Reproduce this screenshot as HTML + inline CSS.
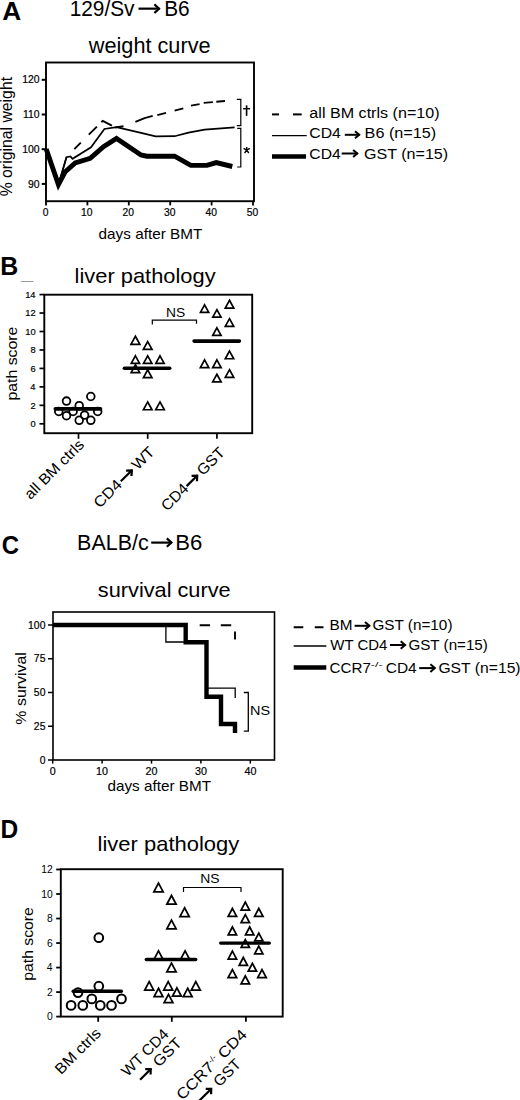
<!DOCTYPE html>
<html><head><meta charset="utf-8"><style>
html,body{margin:0;padding:0;background:#fff;width:520px;height:1100px;overflow:hidden}
svg{display:block}
text{font-family:"Liberation Sans", sans-serif;fill:#000}
.tk{stroke:#000;stroke-width:0.2px}
</style></head><body>
<svg width="520" height="1100" viewBox="0 0 520 1100">
<text x="2.24" y="20.1" font-size="25.8" font-weight="bold" textLength="18.97" lengthAdjust="spacingAndGlyphs">A</text>
<text x="69.64" y="15.8" font-size="21.2" textLength="64.93" lengthAdjust="spacingAndGlyphs">129/Sv</text>
<path d="M138.5,8.65 H159.6" fill="none" stroke="#000" stroke-width="2.2" />
<path d="M154.40,4.35 L159.06,8.65 L154.40,12.95" fill="none" stroke="#000" stroke-width="2.2" stroke-linejoin="miter" stroke-miterlimit="10"/>
<text x="164.23" y="15.7" font-size="21.2" textLength="25.47" lengthAdjust="spacingAndGlyphs">B6</text>
<text x="88.80" y="52.5" font-size="21.2" textLength="121.75" lengthAdjust="spacingAndGlyphs">weight curve</text>
<rect x="46" y="62.5" width="208" height="138.7" fill="none" stroke="#000" stroke-width="1.9"/>
<line x1="41.7" y1="79.79999999999998" x2="46" y2="79.79999999999998" stroke="#000" stroke-width="2" />
<text x="22.20" y="83.4" font-size="10.4" class="tk" textLength="17.35" lengthAdjust="spacingAndGlyphs">120</text>
<line x1="41.7" y1="114.49999999999999" x2="46" y2="114.49999999999999" stroke="#000" stroke-width="2" />
<text x="22.93" y="118.1" font-size="10.4" class="tk" textLength="16.58" lengthAdjust="spacingAndGlyphs">110</text>
<line x1="41.7" y1="149.2" x2="46" y2="149.2" stroke="#000" stroke-width="2" />
<text x="22.20" y="152.8" font-size="10.4" class="tk" textLength="17.35" lengthAdjust="spacingAndGlyphs">100</text>
<line x1="41.7" y1="183.89999999999998" x2="46" y2="183.89999999999998" stroke="#000" stroke-width="2" />
<text x="27.97" y="187.5" font-size="10.4" class="tk" textLength="11.57" lengthAdjust="spacingAndGlyphs">90</text>
<line x1="46.0" y1="201.2" x2="46.0" y2="205.4" stroke="#000" stroke-width="1.8" />
<text x="42.64" y="215.5" font-size="10.4" class="tk" textLength="5.73" lengthAdjust="spacingAndGlyphs">0</text>
<line x1="87.4" y1="201.2" x2="87.4" y2="205.4" stroke="#000" stroke-width="1.8" />
<text x="81.01" y="215.5" font-size="10.4" class="tk" textLength="11.45" lengthAdjust="spacingAndGlyphs">10</text>
<line x1="128.8" y1="201.2" x2="128.8" y2="205.4" stroke="#000" stroke-width="1.8" />
<text x="122.53" y="215.5" font-size="10.4" class="tk" textLength="11.45" lengthAdjust="spacingAndGlyphs">20</text>
<line x1="170.2" y1="201.2" x2="170.2" y2="205.4" stroke="#000" stroke-width="1.8" />
<text x="163.99" y="215.5" font-size="10.4" class="tk" textLength="11.45" lengthAdjust="spacingAndGlyphs">30</text>
<line x1="211.6" y1="201.2" x2="211.6" y2="205.4" stroke="#000" stroke-width="1.8" />
<text x="205.46" y="215.5" font-size="10.4" class="tk" textLength="11.45" lengthAdjust="spacingAndGlyphs">40</text>
<line x1="252.99999999999997" y1="201.2" x2="252.99999999999997" y2="205.4" stroke="#000" stroke-width="1.8" />
<text x="246.79" y="215.5" font-size="10.4" class="tk" textLength="11.45" lengthAdjust="spacingAndGlyphs">50</text>
<text x="98.59" y="239.2" font-size="15" textLength="103.72" lengthAdjust="spacingAndGlyphs">days after BMT</text>
<text x="-0.55" y="0" font-size="15.7" textLength="119.41" lengthAdjust="spacingAndGlyphs" transform="translate(11.6 195.8) rotate(-90)">% original weight</text>
<path d="M46.2,149 L58.4,184.6 L65,172 L75.2,163 L90.2,158.3 L103.5,146.6 L116.5,138.5 L141,155 L146.9,156.2 L174.6,156.2 L190.8,165.4 L206.9,165.4 L216.2,162.6 L232.3,166.5" fill="none" stroke="#000" stroke-width="4.9" stroke-linejoin="miter" stroke-miterlimit="6"/>
<path d="M46.2,149 L58.4,185 L66.5,157.2 L70.5,156.5 L72.5,158.8 L91,147.3 L104.4,129 L116.5,127.2 L140,132.6 L155.6,136.4 L174.6,136.2 L188.5,132.6 L204.6,129.6 L234.6,127.3" fill="none" stroke="#000" stroke-width="1.7" />
<path d="M74.3,149.2 L80.8,142.7" fill="none" stroke="#000" stroke-width="1.9" stroke-linejoin="round"/>
<path d="M88.8,134.7 L96.9,126.6" fill="none" stroke="#000" stroke-width="1.9" stroke-linejoin="round"/>
<path d="M101.3,122.2 L102.7,120.8 L111.9,125.54" fill="none" stroke="#000" stroke-width="1.9" stroke-linejoin="round"/>
<path d="M115.4,127.35 L115.5,127.4 L123.5,126.2" fill="none" stroke="#000" stroke-width="1.9" stroke-linejoin="round"/>
<path d="M135.4,121.8 L144.6,118.1 L152.7,115.8" fill="none" stroke="#000" stroke-width="1.9" stroke-linejoin="round"/>
<path d="M157.3,115.2 L166,112.9" fill="none" stroke="#000" stroke-width="1.9" stroke-linejoin="round"/>
<path d="M174.6,110.6 L183.3,108.3" fill="none" stroke="#000" stroke-width="1.9" stroke-linejoin="round"/>
<path d="M191,105.6 L199.6,104.1" fill="none" stroke="#000" stroke-width="1.9" stroke-linejoin="round"/>
<path d="M203.7,102.9 L212.9,102.1" fill="none" stroke="#000" stroke-width="1.9" stroke-linejoin="round"/>
<path d="M216.3,101.8 L225,101.0" fill="none" stroke="#000" stroke-width="1.9" stroke-linejoin="round"/>
<path d="M46.2,149 L58.4,184.6 L66.5,157" fill="none" stroke="#000" stroke-width="1.5" />
<path d="M236.8,99.4 H240.8 V125.7 H236.8" fill="none" stroke="#000" stroke-width="1.2" />
<path d="M237.2,128.4 H240.8 V167 H237.2" fill="none" stroke="#000" stroke-width="1.2" />
<path d="M246.6,105.3 V115.9" fill="none" stroke="#000" stroke-width="1.6" />
<path d="M243.1,108.7 H250.1" fill="none" stroke="#000" stroke-width="1.5" />
<path d="M246.7,147 V150.2 M246.7,150.2 L243.6,148.4 M246.7,150.2 L249.8,148.4 M246.7,150.2 L244.6,153 M246.7,150.2 L248.8,153" fill="none" stroke="#000" stroke-width="1.4" />
<path d="M272,114.4 H279" fill="none" stroke="#000" stroke-width="2" />
<path d="M293,114.4 H301.7" fill="none" stroke="#000" stroke-width="2" />
<text x="309.38" y="117.8" font-size="14.7" textLength="130.20" lengthAdjust="spacingAndGlyphs">all BM ctrls (n=10)</text>
<line x1="272" y1="135.6" x2="306.7" y2="135.6" stroke="#000" stroke-width="1.4" />
<text x="309.31" y="138.3" font-size="14.7" textLength="31.57" lengthAdjust="spacingAndGlyphs">CD4</text>
<path d="M344.8,134.8 H359.6" fill="none" stroke="#000" stroke-width="2.0" />
<path d="M355.00,131.30 L359.20,134.8 L355.00,138.30" fill="none" stroke="#000" stroke-width="2.0" stroke-linejoin="miter" stroke-miterlimit="10"/>
<text x="364.60" y="138.3" font-size="14.7" textLength="71.64" lengthAdjust="spacingAndGlyphs">B6 (n=15)</text>
<line x1="272" y1="156.5" x2="306" y2="156.5" stroke="#000" stroke-width="4.4" />
<text x="309.32" y="158.7" font-size="14.7" textLength="31.36" lengthAdjust="spacingAndGlyphs">CD4</text>
<path d="M341.7,153.5 H357.7" fill="none" stroke="#000" stroke-width="2.0" />
<path d="M353.10,149.90 L357.30,153.5 L353.10,157.10" fill="none" stroke="#000" stroke-width="2.0" stroke-linejoin="miter" stroke-miterlimit="10"/>
<text x="364.00" y="158.7" font-size="14.7" textLength="84.13" lengthAdjust="spacingAndGlyphs">GST (n=15)</text>
<text x="0.28" y="274.8" font-size="25.4" font-weight="bold" textLength="18.00" lengthAdjust="spacingAndGlyphs">B</text>
<line x1="20.8" y1="281.5" x2="33.5" y2="281.5" stroke="#999" stroke-width="1"/>
<text x="74.58" y="283.4" font-size="21" textLength="141.00" lengthAdjust="spacingAndGlyphs">liver pathology</text>
<rect x="44.3" y="294.7" width="207.9" height="138.5" fill="none" stroke="#000" stroke-width="1.9"/>
<line x1="39.5" y1="423.8" x2="44.3" y2="423.8" stroke="#000" stroke-width="1.7" />
<text x="30.41" y="427.0" font-size="9.3" class="tk" textLength="5.17" lengthAdjust="spacingAndGlyphs">0</text>
<line x1="39.5" y1="405.34000000000003" x2="44.3" y2="405.34000000000003" stroke="#000" stroke-width="1.7" />
<text x="30.50" y="408.54" font-size="9.3" class="tk" textLength="5.17" lengthAdjust="spacingAndGlyphs">2</text>
<line x1="39.5" y1="386.88" x2="44.3" y2="386.88" stroke="#000" stroke-width="1.7" />
<text x="30.32" y="390.08" font-size="9.3" class="tk" textLength="5.17" lengthAdjust="spacingAndGlyphs">4</text>
<line x1="39.5" y1="368.42" x2="44.3" y2="368.42" stroke="#000" stroke-width="1.7" />
<text x="30.46" y="371.62" font-size="9.3" class="tk" textLength="5.17" lengthAdjust="spacingAndGlyphs">6</text>
<line x1="39.5" y1="349.96000000000004" x2="44.3" y2="349.96000000000004" stroke="#000" stroke-width="1.7" />
<text x="30.41" y="353.16" font-size="9.3" class="tk" textLength="5.17" lengthAdjust="spacingAndGlyphs">8</text>
<line x1="39.5" y1="331.5" x2="44.3" y2="331.5" stroke="#000" stroke-width="1.7" />
<text x="25.25" y="334.7" font-size="9.3" class="tk" textLength="10.34" lengthAdjust="spacingAndGlyphs">10</text>
<line x1="39.5" y1="313.04" x2="44.3" y2="313.04" stroke="#000" stroke-width="1.7" />
<text x="25.34" y="316.24" font-size="9.3" class="tk" textLength="10.34" lengthAdjust="spacingAndGlyphs">12</text>
<line x1="39.5" y1="294.58000000000004" x2="44.3" y2="294.58000000000004" stroke="#000" stroke-width="1.7" />
<text x="25.16" y="297.78" font-size="9.3" class="tk" textLength="10.34" lengthAdjust="spacingAndGlyphs">14</text>
<line x1="78.5" y1="433.2" x2="78.5" y2="438.8" stroke="#000" stroke-width="1.7" />
<line x1="147.7" y1="433.2" x2="147.7" y2="438.8" stroke="#000" stroke-width="1.7" />
<line x1="216.9" y1="433.2" x2="216.9" y2="438.8" stroke="#000" stroke-width="1.7" />
<text x="-1.03" y="0" font-size="15.4" textLength="73.93" lengthAdjust="spacingAndGlyphs" transform="translate(16.8 399.5) rotate(-90)">path score</text>
<circle cx="58.8" cy="411.5" r="3.85" fill="none" stroke="#000" stroke-width="1.8"/>
<circle cx="66.5" cy="401.1" r="3.85" fill="none" stroke="#000" stroke-width="1.8"/>
<circle cx="90.8" cy="396.5" r="3.85" fill="none" stroke="#000" stroke-width="1.8"/>
<circle cx="79.2" cy="405.7" r="3.85" fill="none" stroke="#000" stroke-width="1.8"/>
<circle cx="73.1" cy="411.5" r="3.85" fill="none" stroke="#000" stroke-width="1.8"/>
<circle cx="97.7" cy="411.5" r="3.85" fill="none" stroke="#000" stroke-width="1.8"/>
<circle cx="66.5" cy="415.7" r="3.85" fill="none" stroke="#000" stroke-width="1.8"/>
<circle cx="84.6" cy="415.1" r="3.85" fill="none" stroke="#000" stroke-width="1.8"/>
<circle cx="79.2" cy="420.3" r="3.85" fill="none" stroke="#000" stroke-width="1.8"/>
<circle cx="90.8" cy="420.3" r="3.85" fill="none" stroke="#000" stroke-width="1.8"/>
<line x1="55.3" y1="408.9" x2="100.5" y2="408.9" stroke="#000" stroke-width="3.6" stroke-linecap="round"/>
<path d="M135.40,336.26 L139.85,344.35 L130.95,344.35 Z" fill="none" stroke="#000" stroke-width="1.7" stroke-linejoin="miter" stroke-miterlimit="10"/>
<path d="M147.70,341.56 L152.04,349.45 L143.36,349.45 Z" fill="none" stroke="#000" stroke-width="1.7" stroke-linejoin="miter" stroke-miterlimit="10"/>
<path d="M135.40,355.86 L139.57,363.45 L131.23,363.45 Z" fill="none" stroke="#000" stroke-width="1.7" stroke-linejoin="miter" stroke-miterlimit="10"/>
<path d="M147.70,355.86 L151.87,363.45 L143.53,363.45 Z" fill="none" stroke="#000" stroke-width="1.7" stroke-linejoin="miter" stroke-miterlimit="10"/>
<path d="M160.00,355.86 L164.17,363.45 L155.83,363.45 Z" fill="none" stroke="#000" stroke-width="1.7" stroke-linejoin="miter" stroke-miterlimit="10"/>
<path d="M135.40,364.76 L139.68,372.55 L131.12,372.55 Z" fill="none" stroke="#000" stroke-width="1.7" stroke-linejoin="miter" stroke-miterlimit="10"/>
<path d="M147.70,369.86 L151.93,377.55 L143.47,377.55 Z" fill="none" stroke="#000" stroke-width="1.7" stroke-linejoin="miter" stroke-miterlimit="10"/>
<path d="M147.70,401.96 L151.98,409.75 L143.42,409.75 Z" fill="none" stroke="#000" stroke-width="1.7" stroke-linejoin="miter" stroke-miterlimit="10"/>
<path d="M160.00,401.96 L164.28,409.75 L155.72,409.75 Z" fill="none" stroke="#000" stroke-width="1.7" stroke-linejoin="miter" stroke-miterlimit="10"/>
<line x1="124.4" y1="368.2" x2="169.7" y2="368.2" stroke="#000" stroke-width="3.6" stroke-linecap="round"/>
<path d="M204.60,304.86 L208.72,312.35 L200.48,312.35 Z" fill="none" stroke="#000" stroke-width="1.7" stroke-linejoin="miter" stroke-miterlimit="10"/>
<path d="M216.90,309.66 L221.02,317.15 L212.78,317.15 Z" fill="none" stroke="#000" stroke-width="1.7" stroke-linejoin="miter" stroke-miterlimit="10"/>
<path d="M229.50,300.26 L233.78,308.05 L225.22,308.05 Z" fill="none" stroke="#000" stroke-width="1.7" stroke-linejoin="miter" stroke-miterlimit="10"/>
<path d="M229.50,318.66 L233.73,326.35 L225.27,326.35 Z" fill="none" stroke="#000" stroke-width="1.7" stroke-linejoin="miter" stroke-miterlimit="10"/>
<path d="M216.90,327.86 L221.07,335.45 L212.73,335.45 Z" fill="none" stroke="#000" stroke-width="1.7" stroke-linejoin="miter" stroke-miterlimit="10"/>
<path d="M229.50,351.06 L233.73,358.75 L225.27,358.75 Z" fill="none" stroke="#000" stroke-width="1.7" stroke-linejoin="miter" stroke-miterlimit="10"/>
<path d="M204.60,359.86 L208.83,367.55 L200.37,367.55 Z" fill="none" stroke="#000" stroke-width="1.7" stroke-linejoin="miter" stroke-miterlimit="10"/>
<path d="M216.90,359.86 L221.13,367.55 L212.67,367.55 Z" fill="none" stroke="#000" stroke-width="1.7" stroke-linejoin="miter" stroke-miterlimit="10"/>
<path d="M229.50,369.66 L233.73,377.35 L225.27,377.35 Z" fill="none" stroke="#000" stroke-width="1.7" stroke-linejoin="miter" stroke-miterlimit="10"/>
<path d="M216.90,374.26 L221.13,381.95 L212.67,381.95 Z" fill="none" stroke="#000" stroke-width="1.7" stroke-linejoin="miter" stroke-miterlimit="10"/>
<line x1="194.1" y1="341.1" x2="239.4" y2="341.1" stroke="#000" stroke-width="3.6" stroke-linecap="round"/>
<path d="M152.3,324.6 V320.2 H196.5 V323.8" fill="none" stroke="#000" stroke-width="1.2" />
<text x="166.10" y="317.4" font-size="12.4" textLength="19.18" lengthAdjust="spacingAndGlyphs">NS</text>
<text x="1.64" y="554.3" font-size="25.8" font-weight="bold" textLength="17.31" lengthAdjust="spacingAndGlyphs">C</text>
<text x="77.08" y="549.7" font-size="21.3" textLength="71.55" lengthAdjust="spacingAndGlyphs">BALB/c</text>
<path d="M151.2,542.6 H172" fill="none" stroke="#000" stroke-width="2.2" />
<path d="M166.80,538.40 L171.46,542.6 L166.80,546.80" fill="none" stroke="#000" stroke-width="2.2" stroke-linejoin="miter" stroke-miterlimit="10"/>
<text x="175.23" y="549.7" font-size="21.3" textLength="27.03" lengthAdjust="spacingAndGlyphs">B6</text>
<text x="97.85" y="597.3" font-size="20.8" textLength="132.79" lengthAdjust="spacingAndGlyphs">survival curve</text>
<rect x="53" y="612" width="221.5" height="148" fill="none" stroke="#000" stroke-width="1.6"/>
<line x1="48" y1="760.0" x2="53" y2="760.0" stroke="#000" stroke-width="1.5" />
<text x="39.64" y="763.6" font-size="10.4" class="tk" textLength="5.78" lengthAdjust="spacingAndGlyphs">0</text>
<line x1="48" y1="726.25" x2="53" y2="726.25" stroke="#000" stroke-width="1.5" />
<text x="33.87" y="729.85" font-size="10.4" class="tk" textLength="11.57" lengthAdjust="spacingAndGlyphs">25</text>
<line x1="48" y1="692.5" x2="53" y2="692.5" stroke="#000" stroke-width="1.5" />
<text x="33.87" y="696.1" font-size="10.4" class="tk" textLength="11.57" lengthAdjust="spacingAndGlyphs">50</text>
<line x1="48" y1="658.75" x2="53" y2="658.75" stroke="#000" stroke-width="1.5" />
<text x="33.87" y="662.35" font-size="10.4" class="tk" textLength="11.57" lengthAdjust="spacingAndGlyphs">75</text>
<line x1="48" y1="625.0" x2="53" y2="625.0" stroke="#000" stroke-width="1.5" />
<text x="28.10" y="628.6" font-size="10.4" class="tk" textLength="17.35" lengthAdjust="spacingAndGlyphs">100</text>
<line x1="52.7" y1="760" x2="52.7" y2="763.6" stroke="#000" stroke-width="1.5" />
<text x="49.73" y="774.6" font-size="10.4" class="tk" textLength="5.96" lengthAdjust="spacingAndGlyphs">0</text>
<line x1="102.10000000000001" y1="760" x2="102.10000000000001" y2="763.6" stroke="#000" stroke-width="1.5" />
<text x="95.97" y="774.6" font-size="10.4" class="tk" textLength="11.92" lengthAdjust="spacingAndGlyphs">10</text>
<line x1="151.5" y1="760" x2="151.5" y2="763.6" stroke="#000" stroke-width="1.5" />
<text x="145.50" y="774.6" font-size="10.4" class="tk" textLength="11.92" lengthAdjust="spacingAndGlyphs">20</text>
<line x1="200.90000000000003" y1="760" x2="200.90000000000003" y2="763.6" stroke="#000" stroke-width="1.5" />
<text x="194.95" y="774.6" font-size="10.4" class="tk" textLength="11.92" lengthAdjust="spacingAndGlyphs">30</text>
<line x1="250.3" y1="760" x2="250.3" y2="763.6" stroke="#000" stroke-width="1.5" />
<text x="244.44" y="774.6" font-size="10.4" class="tk" textLength="11.92" lengthAdjust="spacingAndGlyphs">40</text>
<text x="107.49" y="790.7" font-size="15" textLength="103.62" lengthAdjust="spacingAndGlyphs">days after BMT</text>
<text x="-0.56" y="0" font-size="15.5" textLength="72.52" lengthAdjust="spacingAndGlyphs" transform="translate(26.4 724.1) rotate(-90)">% survival</text>
<path d="M199.7,625.2 H210 M220.8,625.2 H231.2" fill="none" stroke="#000" stroke-width="2" />
<path d="M235,631.6 V639.4" fill="none" stroke="#000" stroke-width="1.9" />
<path d="M53,625 H165.9 V642 H206 V688.2 H235.2 V698" fill="none" stroke="#000" stroke-width="1.3" />
<path d="M53,625 H185.7 V642.3 H206.5 V696.7 H221 V724 H235 V733" fill="none" stroke="#000" stroke-width="4.4" stroke-linejoin="miter"/>
<path d="M243.8,692.5 H248.3 V731.2 H243.8" fill="none" stroke="#000" stroke-width="1.3" />
<text x="250.14" y="715" font-size="13.6" textLength="20.07" lengthAdjust="spacingAndGlyphs">NS</text>
<path d="M293.7,627.3 H303.3 M314.8,627.3 H323.5" fill="none" stroke="#000" stroke-width="2" />
<text x="329.47" y="629.9" font-size="13.8" textLength="23.03" lengthAdjust="spacingAndGlyphs">BM</text>
<path d="M354.6,625.8 H369.8" fill="none" stroke="#000" stroke-width="2.0" />
<path d="M365.00,622.00 L369.40,625.8 L365.00,629.60" fill="none" stroke="#000" stroke-width="2.0" stroke-linejoin="miter" stroke-miterlimit="10"/>
<text x="372.44" y="630.2" font-size="13.8" textLength="80.04" lengthAdjust="spacingAndGlyphs">GST (n=10)</text>
<line x1="293.7" y1="646" x2="326.3" y2="646" stroke="#000" stroke-width="1.4" />
<text x="330.33" y="649.5" font-size="13.8" textLength="57.12" lengthAdjust="spacingAndGlyphs">WT CD4</text>
<path d="M390,645 H405.5" fill="none" stroke="#000" stroke-width="2.0" />
<path d="M400.70,641.20 L405.10,645 L400.70,648.80" fill="none" stroke="#000" stroke-width="2.0" stroke-linejoin="miter" stroke-miterlimit="10"/>
<text x="408.44" y="649.6" font-size="13.8" textLength="79.43" lengthAdjust="spacingAndGlyphs">GST (n=15)</text>
<line x1="293.7" y1="667.5" x2="326.3" y2="667.5" stroke="#000" stroke-width="4.5" />
<text x="329.64" y="672.7" font-size="13.8" textLength="41.26" lengthAdjust="spacingAndGlyphs">CCR7</text>
<text x="370.83" y="666.6" font-size="8" textLength="11.92" lengthAdjust="spacingAndGlyphs">-/-</text>
<text x="385.73" y="673.2" font-size="13.8" textLength="30.95" lengthAdjust="spacingAndGlyphs">CD4</text>
<path d="M419.2,668.1 H435.2" fill="none" stroke="#000" stroke-width="2.0" />
<path d="M430.40,664.30 L434.80,668.1 L430.40,671.90" fill="none" stroke="#000" stroke-width="2.0" stroke-linejoin="miter" stroke-miterlimit="10"/>
<text x="438.41" y="673.2" font-size="13.8" textLength="82.19" lengthAdjust="spacingAndGlyphs">GST (n=15)</text>
<text x="0.60" y="838" font-size="25.9" font-weight="bold" textLength="17.73" lengthAdjust="spacingAndGlyphs">D</text>
<text x="97.57" y="851.2" font-size="21" textLength="141.70" lengthAdjust="spacingAndGlyphs">liver pathology</text>
<rect x="60.8" y="869.2" width="221.9" height="147.4" fill="none" stroke="#000" stroke-width="1.9"/>
<line x1="56.2" y1="1016.6" x2="60.8" y2="1016.6" stroke="#000" stroke-width="1.8" />
<text x="47.00" y="1020.1" font-size="10" textLength="5.73" lengthAdjust="spacingAndGlyphs">0</text>
<line x1="56.2" y1="992.08" x2="60.8" y2="992.08" stroke="#000" stroke-width="1.8" />
<text x="47.10" y="995.58" font-size="10" textLength="5.73" lengthAdjust="spacingAndGlyphs">2</text>
<line x1="56.2" y1="967.5600000000001" x2="60.8" y2="967.5600000000001" stroke="#000" stroke-width="1.8" />
<text x="46.89" y="971.06" font-size="10" textLength="5.73" lengthAdjust="spacingAndGlyphs">4</text>
<line x1="56.2" y1="943.04" x2="60.8" y2="943.04" stroke="#000" stroke-width="1.8" />
<text x="47.05" y="946.54" font-size="10" textLength="5.73" lengthAdjust="spacingAndGlyphs">6</text>
<line x1="56.2" y1="918.52" x2="60.8" y2="918.52" stroke="#000" stroke-width="1.8" />
<text x="47.00" y="922.02" font-size="10" textLength="5.73" lengthAdjust="spacingAndGlyphs">8</text>
<line x1="56.2" y1="894.0" x2="60.8" y2="894.0" stroke="#000" stroke-width="1.8" />
<text x="41.28" y="897.5" font-size="10" textLength="11.46" lengthAdjust="spacingAndGlyphs">10</text>
<line x1="56.2" y1="869.48" x2="60.8" y2="869.48" stroke="#000" stroke-width="1.8" />
<text x="41.38" y="872.98" font-size="10" textLength="11.46" lengthAdjust="spacingAndGlyphs">12</text>
<line x1="98.2" y1="1016.6" x2="98.2" y2="1021.8" stroke="#000" stroke-width="1.8" />
<line x1="171.8" y1="1016.6" x2="171.8" y2="1021.8" stroke="#000" stroke-width="1.8" />
<line x1="245.9" y1="1016.6" x2="245.9" y2="1021.8" stroke="#000" stroke-width="1.8" />
<text x="-1.03" y="0" font-size="15.4" textLength="73.73" lengthAdjust="spacingAndGlyphs" transform="translate(32.9 979.8) rotate(-90)">path score</text>
<circle cx="98.8" cy="937.7" r="4.35" fill="none" stroke="#000" stroke-width="2.0"/>
<circle cx="98.8" cy="986.2" r="4.35" fill="none" stroke="#000" stroke-width="2.0"/>
<circle cx="78" cy="992.6" r="4.35" fill="none" stroke="#000" stroke-width="2.0"/>
<circle cx="91.8" cy="998.9" r="4.35" fill="none" stroke="#000" stroke-width="2.0"/>
<circle cx="121.5" cy="998.9" r="4.35" fill="none" stroke="#000" stroke-width="2.0"/>
<circle cx="71.1" cy="1005.4" r="4.35" fill="none" stroke="#000" stroke-width="2.0"/>
<circle cx="82.8" cy="1005.4" r="4.35" fill="none" stroke="#000" stroke-width="2.0"/>
<circle cx="100.3" cy="1005.4" r="4.35" fill="none" stroke="#000" stroke-width="2.0"/>
<circle cx="111.5" cy="1005.4" r="4.35" fill="none" stroke="#000" stroke-width="2.0"/>
<line x1="73.2" y1="991.2" x2="121.3" y2="991.2" stroke="#000" stroke-width="3.4" stroke-linecap="round"/>
<path d="M158.50,883.17 L163.14,891.92 L153.86,891.92 Z" fill="none" stroke="#000" stroke-width="1.75" stroke-linejoin="miter" stroke-miterlimit="10"/>
<path d="M171.50,895.47 L176.14,904.23 L166.86,904.23 Z" fill="none" stroke="#000" stroke-width="1.75" stroke-linejoin="miter" stroke-miterlimit="10"/>
<path d="M184.60,907.77 L189.24,916.52 L179.96,916.52 Z" fill="none" stroke="#000" stroke-width="1.75" stroke-linejoin="miter" stroke-miterlimit="10"/>
<path d="M171.50,920.07 L176.14,928.83 L166.86,928.83 Z" fill="none" stroke="#000" stroke-width="1.75" stroke-linejoin="miter" stroke-miterlimit="10"/>
<path d="M158.50,950.87 L162.88,959.12 L154.12,959.12 Z" fill="none" stroke="#000" stroke-width="1.75" stroke-linejoin="miter" stroke-miterlimit="10"/>
<path d="M185.10,950.87 L189.48,959.12 L180.72,959.12 Z" fill="none" stroke="#000" stroke-width="1.75" stroke-linejoin="miter" stroke-miterlimit="10"/>
<path d="M171.50,963.17 L176.14,971.92 L166.86,971.92 Z" fill="none" stroke="#000" stroke-width="1.75" stroke-linejoin="miter" stroke-miterlimit="10"/>
<path d="M149.20,981.67 L153.68,990.12 L144.72,990.12 Z" fill="none" stroke="#000" stroke-width="1.75" stroke-linejoin="miter" stroke-miterlimit="10"/>
<path d="M168.20,981.67 L172.68,990.12 L163.72,990.12 Z" fill="none" stroke="#000" stroke-width="1.75" stroke-linejoin="miter" stroke-miterlimit="10"/>
<path d="M195.80,981.67 L200.28,990.12 L191.32,990.12 Z" fill="none" stroke="#000" stroke-width="1.75" stroke-linejoin="miter" stroke-miterlimit="10"/>
<path d="M158.50,988.27 L162.88,996.52 L154.12,996.52 Z" fill="none" stroke="#000" stroke-width="1.75" stroke-linejoin="miter" stroke-miterlimit="10"/>
<path d="M176.90,987.87 L181.33,996.23 L172.47,996.23 Z" fill="none" stroke="#000" stroke-width="1.75" stroke-linejoin="miter" stroke-miterlimit="10"/>
<path d="M187.70,988.27 L192.08,996.52 L183.32,996.52 Z" fill="none" stroke="#000" stroke-width="1.75" stroke-linejoin="miter" stroke-miterlimit="10"/>
<path d="M168.50,994.37 L172.88,1002.62 L164.12,1002.62 Z" fill="none" stroke="#000" stroke-width="1.75" stroke-linejoin="miter" stroke-miterlimit="10"/>
<line x1="146.25" y1="959.5" x2="195.75" y2="959.5" stroke="#000" stroke-width="3.3" stroke-linecap="round"/>
<path d="M245.30,902.07 L249.52,910.02 L241.08,910.02 Z" fill="none" stroke="#000" stroke-width="1.75" stroke-linejoin="miter" stroke-miterlimit="10"/>
<path d="M232.40,908.47 L236.62,916.42 L228.18,916.42 Z" fill="none" stroke="#000" stroke-width="1.75" stroke-linejoin="miter" stroke-miterlimit="10"/>
<path d="M258.80,908.47 L263.02,916.42 L254.58,916.42 Z" fill="none" stroke="#000" stroke-width="1.75" stroke-linejoin="miter" stroke-miterlimit="10"/>
<path d="M245.30,914.57 L249.52,922.52 L241.08,922.52 Z" fill="none" stroke="#000" stroke-width="1.75" stroke-linejoin="miter" stroke-miterlimit="10"/>
<path d="M232.40,926.97 L236.56,934.83 L228.24,934.83 Z" fill="none" stroke="#000" stroke-width="1.75" stroke-linejoin="miter" stroke-miterlimit="10"/>
<path d="M249.70,926.97 L253.86,934.83 L245.54,934.83 Z" fill="none" stroke="#000" stroke-width="1.75" stroke-linejoin="miter" stroke-miterlimit="10"/>
<path d="M258.80,933.17 L262.91,940.92 L254.69,940.92 Z" fill="none" stroke="#000" stroke-width="1.75" stroke-linejoin="miter" stroke-miterlimit="10"/>
<path d="M245.30,939.57 L249.41,947.33 L241.19,947.33 Z" fill="none" stroke="#000" stroke-width="1.75" stroke-linejoin="miter" stroke-miterlimit="10"/>
<path d="M258.80,946.17 L262.91,953.92 L254.69,953.92 Z" fill="none" stroke="#000" stroke-width="1.75" stroke-linejoin="miter" stroke-miterlimit="10"/>
<path d="M232.40,951.17 L236.62,959.12 L228.18,959.12 Z" fill="none" stroke="#000" stroke-width="1.75" stroke-linejoin="miter" stroke-miterlimit="10"/>
<path d="M243.30,957.47 L247.46,965.33 L239.14,965.33 Z" fill="none" stroke="#000" stroke-width="1.75" stroke-linejoin="miter" stroke-miterlimit="10"/>
<path d="M252.40,963.37 L256.56,971.23 L248.24,971.23 Z" fill="none" stroke="#000" stroke-width="1.75" stroke-linejoin="miter" stroke-miterlimit="10"/>
<path d="M232.40,969.57 L236.67,977.62 L228.13,977.62 Z" fill="none" stroke="#000" stroke-width="1.75" stroke-linejoin="miter" stroke-miterlimit="10"/>
<path d="M262.00,969.57 L266.27,977.62 L257.73,977.62 Z" fill="none" stroke="#000" stroke-width="1.75" stroke-linejoin="miter" stroke-miterlimit="10"/>
<path d="M245.30,975.97 L249.52,983.92 L241.08,983.92 Z" fill="none" stroke="#000" stroke-width="1.75" stroke-linejoin="miter" stroke-miterlimit="10"/>
<line x1="220.7" y1="943.1" x2="269.3" y2="943.1" stroke="#000" stroke-width="3.4" stroke-linecap="round"/>
<path d="M183.5,891.9 V887.5 H241 V891.9" fill="none" stroke="#000" stroke-width="1.2" />
<text x="200.19" y="883.1" font-size="12" textLength="19.29" lengthAdjust="spacingAndGlyphs">NS</text>
<g transform="translate(30.38 500.31) rotate(-45) scale(1.040 1)">
<text x="0.00" y="0" font-size="15.2">all BM ctrls</text>
</g>
<g transform="translate(99.73 508.78) rotate(-45) scale(1.075 1)">
<text x="0.00" y="0" font-size="15.2">CD4</text>
<path d="M31.91,-4.5 H46.91" stroke="#000" stroke-width="2.2" fill="none"/>
<path d="M42.41,-8.3 L46.37,-4.5 L42.41,-0.7000000000000002" stroke="#000" stroke-width="2.2" fill="none" stroke-linejoin="miter"/>
<text x="49.91" y="0" font-size="15.2">WT</text>
</g>
<g transform="translate(167.31 511.84) rotate(-45) scale(1.030 1)">
<text x="0.00" y="0" font-size="15.2">CD4</text>
<path d="M30.91,-4.5 H45.91" stroke="#000" stroke-width="2.2" fill="none"/>
<path d="M41.41,-8.3 L45.37,-4.5 L41.41,-0.7000000000000002" stroke="#000" stroke-width="2.2" fill="none" stroke-linejoin="miter"/>
<text x="48.91" y="0" font-size="15.2">GST</text>
</g>
<g transform="translate(60.92 1075.14) rotate(-45) scale(1.055 1)">
<text x="0.00" y="0" font-size="15.2">BM ctrls</text>
</g>
<g transform="translate(127.55 1077.18) rotate(-45) scale(1.025 1)">
<text x="0.00" y="0" font-size="15.2">WT CD4</text>
</g>
<g transform="translate(158.96 1067.75) rotate(-45) scale(1.085 1)">
<text x="0.00" y="0" font-size="15.2">GST</text>
</g>
<path d="M140.1,1079.7 L151.09,1068.71" fill="none" stroke="#000" stroke-width="2.2" />
<path d="M150.60,1074.58 L150.71,1069.09 L145.22,1069.20" fill="none" stroke="#000" stroke-width="2.2" stroke-linejoin="miter"/>
<g transform="translate(182.57 1100.78) rotate(-45) scale(1.115 1)">
<text x="0.00" y="0" font-size="15.2">CCR7</text>
<text x="41.39" y="-6" font-size="8">-/-</text>
<text x="52.44" y="0" font-size="15.2">CD4</text>
</g>
<g transform="translate(219.42 1087.60) rotate(-45) scale(1.020 1)">
<text x="0.00" y="0" font-size="15.2">GST</text>
</g>
<path d="M199.5,1100.5 L211.59,1088.41" fill="none" stroke="#000" stroke-width="2.2" />
<path d="M211.10,1094.28 L211.21,1088.79 L205.72,1088.90" fill="none" stroke="#000" stroke-width="2.2" stroke-linejoin="miter"/>
</svg>
</body></html>
